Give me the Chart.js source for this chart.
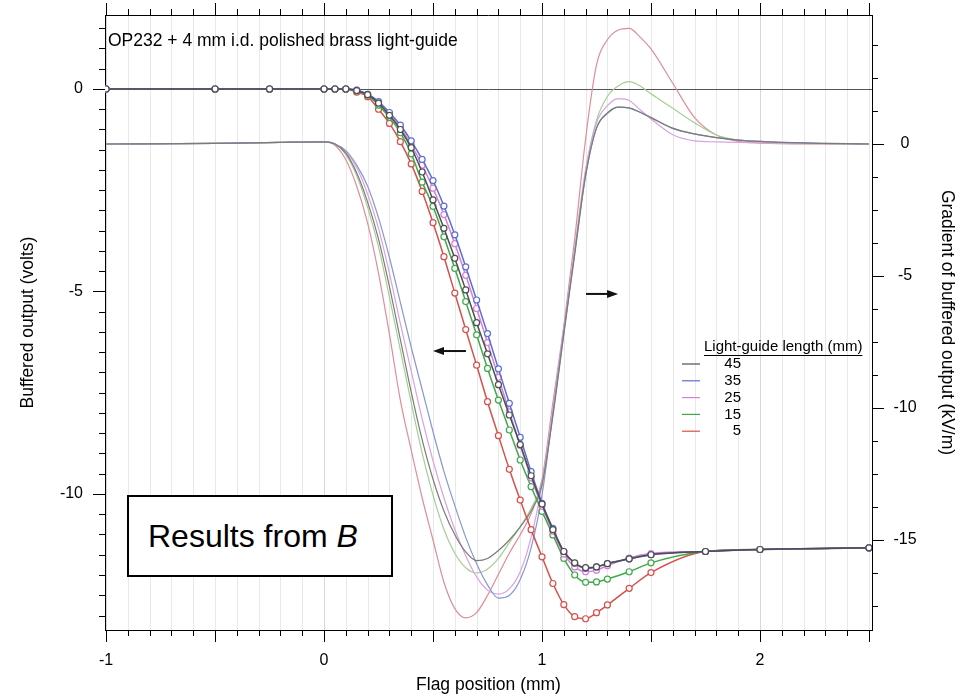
<!DOCTYPE html>
<html><head><meta charset="utf-8">
<script src="https://cdn.jsdelivr.net/npm/chart.js@4.4.1/dist/chart.umd.min.js"></script>
<style>
html,body{margin:0;padding:0;background:#fff;}
#wrap{position:relative;width:977px;height:699px;}
canvas{position:absolute;left:0;top:0;}
#box{position:absolute;left:127px;top:495px;width:266px;height:82px;box-sizing:border-box;border:2px solid #000;background:#fff;font:32px "Liberation Sans",Arial,sans-serif;line-height:78px;padding-left:19px;color:#000;white-space:nowrap;}
</style></head><body>
<div id="wrap"><canvas id="c" width="977" height="699"></canvas><div id="box">Results from <i>B</i></div></div>
<script>
// ---------- data ----------
const lengths = ['45', '35', '25', '15', '5'];

// buffered output (volts), marked points
const bufX = [-1,-0.5,-0.25,0,0.05,0.1,0.15,0.2,0.25,0.3,0.35,0.4,0.45,0.5,0.55,0.6,0.65,0.7,0.75,0.8,0.85,0.9,0.95,1.0,1.05,1.1,1.15,1.2,1.25,1.3,1.4,1.5,1.75,2.0,2.5];
const buf45 = [0,0,0,0,0,0,-0.04,-0.14,-0.35,-0.65,-1.0,-1.45,-2.05,-2.74,-3.44,-4.18,-4.96,-5.77,-6.54,-7.3,-8.05,-8.78,-9.55,-10.25,-10.88,-11.42,-11.7,-11.82,-11.8,-11.72,-11.6,-11.5,-11.42,-11.37,-11.33];
const buf35 = [0,0,0,0,0,0,-0.03,-0.13,-0.31,-0.58,-0.89,-1.28,-1.74,-2.26,-2.89,-3.6,-4.39,-5.21,-6.04,-6.91,-7.76,-8.6,-9.45,-10.23,-10.85,-11.42,-11.71,-11.84,-11.8,-11.72,-11.6,-11.5,-11.42,-11.37,-11.33];
const buf25 = [0,0,0,0,0,0,-0.03,-0.13,-0.33,-0.62,-0.95,-1.38,-1.88,-2.45,-3.1,-3.82,-4.6,-5.42,-6.26,-7.12,-7.97,-8.8,-9.6,-10.3,-10.92,-11.48,-11.8,-11.92,-11.88,-11.77,-11.58,-11.47,-11.42,-11.37,-11.33];
const buf15 = [0,0,0,0,0,0,-0.05,-0.15,-0.4,-0.7,-1.08,-1.6,-2.3,-2.9,-3.65,-4.43,-5.25,-6.07,-6.9,-7.68,-8.42,-9.16,-9.82,-10.43,-11.01,-11.59,-12.0,-12.18,-12.17,-12.1,-11.92,-11.7,-11.42,-11.37,-11.33];
const buf5  = [0,0,0,0,0,0,-0.08,-0.19,-0.5,-0.85,-1.3,-1.85,-2.53,-3.3,-4.14,-5.04,-5.94,-6.82,-7.72,-8.56,-9.39,-10.15,-10.88,-11.55,-12.21,-12.73,-13.03,-13.08,-12.93,-12.74,-12.33,-11.94,-11.42,-11.37,-11.33];

// gradient of buffered output (kV/m)
const gradX = [-1,-0.5,-0.2,0,0.05,0.1,0.15,0.2,0.25,0.3,0.35,0.4,0.45,0.5,0.55,0.6,0.65,0.7,0.75,0.8,0.85,0.9,0.95,1.0,1.05,1.1,1.15,1.2,1.25,1.3,1.35,1.4,1.45,1.5,1.6,1.7,1.8,1.9,2.0,2.2,2.5];
const grad45 = [0,0.02,0.06,0.08,0,-0.35,-1.1,-2.2,-3.6,-5.4,-7.4,-9.4,-11.2,-12.7,-13.9,-14.8,-15.45,-15.78,-15.7,-15.4,-15.0,-14.5,-13.9,-12.9,-10.3,-7.2,-4.2,-1.2,0.6,1.18,1.4,1.37,1.2,1.0,0.6,0.38,0.24,0.15,0.1,0.04,0];
const grad35 = [0,0.02,0.06,0.08,0,-0.25,-0.8,-1.6,-2.8,-4.3,-6.0,-7.7,-9.3,-10.9,-12.4,-13.7,-14.9,-15.9,-16.7,-17.2,-17.1,-16.5,-15.3,-13.3,-10.2,-7.1,-4.1,-1.2,0.6,1.15,1.4,1.36,1.2,1.0,0.58,0.38,0.24,0.15,0.1,0.04,0];
const grad25 = [0,0.02,0.06,0.08,0,-0.3,-0.9,-1.9,-3.2,-4.9,-6.8,-8.6,-10.4,-12.0,-13.4,-14.6,-15.6,-16.4,-16.9,-17.05,-16.85,-16.2,-14.9,-12.9,-10.0,-7.0,-4.0,-1.0,0.8,1.45,1.72,1.65,1.3,0.95,0.35,0.12,0.08,0.06,0.05,0.02,0];
const grad15 = [0,0.02,0.06,0.08,0,-0.4,-1.2,-2.4,-3.9,-5.8,-7.8,-9.8,-11.7,-13.3,-14.6,-15.5,-16.05,-16.25,-16.1,-15.7,-15.1,-14.5,-13.8,-12.8,-10.2,-7.2,-4.0,-1.0,0.9,1.8,2.2,2.36,2.2,1.9,1.35,0.8,0.34,0.15,0.06,0.01,0];
const grad5  = [0,0.02,0.06,0.08,-0.05,-0.6,-1.6,-3.0,-4.9,-7.2,-9.7,-11.6,-13.4,-15.0,-16.6,-17.6,-17.95,-17.75,-17.1,-16.3,-15.5,-14.8,-14.0,-12.7,-9.8,-6.9,-3.6,0.2,3.0,3.95,4.32,4.38,4.05,3.6,2.3,1.0,0.34,0.1,0.03,0,0];

const xTicks = [-1, 0, 1, 2];
const yTicks = [-10, -5, 0];
const y2Ticks = [-15, -10, -5, 0];

// ---------- styling ----------
const FONT = '"Liberation Sans", Arial, Helvetica, sans-serif';
const bufSeries = [buf45, buf35, buf25, buf15, buf5];
const gradSeries = [grad45, grad35, grad25, grad15, grad5];
const bufColors = ['#4e4e4e', '#5a6ed4', '#d97ed9', '#3fa94a', '#d6504c'];
const gradColors = ['#7c7c76', '#8797d4', '#d9a3de', '#a3cf97', '#df8d97'];

const datasets = [];
lengths.forEach((len, i) => {
  datasets.push({
    label: 'gradient ' + len, yAxisID: 'y2',
    data: gradX.map((x, j) => ({x, y: gradSeries[i][j]})),
    borderColor: gradColors[i], borderWidth: 1.2, pointRadius: 0,
    cubicInterpolationMode: 'monotone', order: 2
  });
});
lengths.forEach((len, i) => {
  datasets.push({
    label: len, yAxisID: 'y',
    data: bufX.map((x, j) => ({x, y: bufSeries[i][j]})),
    borderColor: bufColors[i], borderWidth: 1.5,
    pointRadius: 3, pointBorderWidth: 1.2,
    pointBackgroundColor: '#fff', pointBorderColor: bufColors[i],
    cubicInterpolationMode: 'monotone', order: 1
  });
});

function arrow(ctx, x0, y0, x1) {
  const dir = Math.sign(x1 - x0);
  ctx.beginPath();
  ctx.moveTo(x0, y0); ctx.lineTo(x1 - dir * 8, y0);
  ctx.lineWidth = 2; ctx.strokeStyle = '#111'; ctx.stroke();
  ctx.beginPath();
  ctx.moveTo(x1, y0); ctx.lineTo(x1 - dir * 11, y0 - 4); ctx.lineTo(x1 - dir * 11, y0 + 4); ctx.closePath();
  ctx.fillStyle = '#111'; ctx.fill();
}

const framePlugin = {
  id: 'frame',
  beforeDatasetsDraw(chart) {
    const {ctx, chartArea: a, scales: {x, y}} = chart;
    ctx.save();
    ctx.lineWidth = 1;
    for (let i = -10; i <= 25; i++) {
      const px = Math.round(x.getPixelForValue(i / 10)) + 0.5;
      ctx.strokeStyle = (i % 10 === 0) ? '#d8d8d8' : '#e8e8e8';
      ctx.beginPath(); ctx.moveTo(px, a.top); ctx.lineTo(px, a.bottom); ctx.stroke();
    }
    const py = Math.round(y.getPixelForValue(0)) + 0.5;
    ctx.strokeStyle = '#555';
    ctx.beginPath(); ctx.moveTo(a.left, py); ctx.lineTo(a.right, py); ctx.stroke();
    ctx.restore();
  },
  afterDraw(chart) {
    const {ctx, chartArea: a, scales: {x, y, y2}} = chart;
    ctx.save();
    ctx.strokeStyle = '#000'; ctx.lineWidth = 1;
    ctx.beginPath();
    ctx.moveTo(a.left, Math.round(a.top) + 0.5); ctx.lineTo(a.right, Math.round(a.top) + 0.5);
    for (let i = -10; i <= 25; i++) {
      const px = Math.round(x.getPixelForValue(i / 10)) + 0.5;
      const L = (i % 5 === 0) ? 12 : 6;
      ctx.moveTo(px, a.bottom); ctx.lineTo(px, a.bottom + L);
      ctx.moveTo(px, a.top); ctx.lineTo(px, a.top - L);
    }
    for (let i = -26; i <= 3; i++) {
      const v = i * 0.5;
      if (v < y.min || v > y.max) continue;
      const py = Math.round(y.getPixelForValue(v)) + 0.5;
      const L = (i % 10 === 0) ? 12 : 6;
      ctx.moveTo(a.left, py); ctx.lineTo(a.left - L, py);
    }
    for (let i = -14; i <= 3; i++) {
      const v = i * 1.25;
      if (v < y2.min || v > y2.max) continue;
      const py = Math.round(y2.getPixelForValue(v)) + 0.5;
      const L = (i % 4 === 0) ? 12 : 6;
      ctx.moveTo(a.right, py); ctx.lineTo(a.right + L, py);
    }
    ctx.stroke();

    arrow(ctx, x.getPixelForValue(0.651), y.getPixelForValue(-6.47), x.getPixelForValue(0.5));
    arrow(ctx, x.getPixelForValue(1.202), y2.getPixelForValue(-5.68), x.getPixelForValue(1.349));

    ctx.fillStyle = '#000';
    ctx.font = '17.5px ' + FONT;
    ctx.textBaseline = 'middle'; ctx.textAlign = 'left';
    ctx.fillText('OP232 + 4 mm i.d. polished brass light-guide', 108, 41);

    ctx.font = '15px ' + FONT;
    const lt = 'Light-guide length (mm)';
    ctx.fillText(lt, 704, 347);
    const w = ctx.measureText(lt).width;
    ctx.lineWidth = 1; ctx.strokeStyle = '#000';
    ctx.beginPath(); ctx.moveTo(704, 355.5); ctx.lineTo(704 + w, 355.5); ctx.stroke();
    ctx.textAlign = 'right';
    lengths.forEach((len, i) => {
      const ly = 364 + i * 16.8;
      ctx.strokeStyle = bufColors[i]; ctx.lineWidth = 1.2;
      ctx.beginPath(); ctx.moveTo(682, ly); ctx.lineTo(700, ly); ctx.stroke();
      ctx.fillStyle = '#000';
      ctx.fillText(len, 741, ly);
    });
    ctx.restore();
  }
};

const tickFont = {family: FONT, size: 16};
const titleFont = {family: FONT, size: 17.5};
const noPadV = s => { s.width = 105; s.paddingTop = 0; s.paddingBottom = 0; };

new Chart(document.getElementById('c'), {
  type: 'line',
  data: {datasets},
  options: {
    responsive: false, animation: false,
    layout: {padding: {top: 15, left: 0, right: 0, bottom: 0}},
    plugins: {legend: {display: false}, tooltip: {enabled: false}},
    scales: {
      x: {
        type: 'linear', min: -1.005, max: 2.514,
        grid: {display: false, drawTicks: false},
        border: {display: true, color: '#000', width: 1},
        afterBuildTicks: s => { s.ticks = xTicks.map(v => ({value: v})); },
        ticks: {autoSkip: false, maxRotation: 0, padding: 21, color: '#000', font: tickFont, callback: v => String(v)},
        title: {display: true, text: 'Flag position (mm)', color: '#000', font: titleFont, padding: {top: 0, bottom: 3}},
        afterFit: s => { s.height = 69; s.paddingLeft = 0; s.paddingRight = 0; }
      },
      y: {
        type: 'linear', position: 'left', min: -13.358, max: 1.827,
        grid: {display: false, drawTicks: false},
        border: {display: true, color: '#000', width: 1},
        afterBuildTicks: s => { s.ticks = yTicks.map(v => ({value: v})); },
        ticks: {autoSkip: false, padding: 22, color: '#000', font: tickFont, callback: v => String(v)},
        title: {display: true, text: 'Buffered output (volts)', color: '#000', font: titleFont, padding: {top: 18, bottom: 0}},
        afterFit: noPadV
      },
      y2: {
        type: 'linear', position: 'right', min: -18.41, max: 4.886,
        grid: {display: false, drawTicks: false},
        border: {display: true, color: '#000', width: 1},
        afterBuildTicks: s => { s.ticks = y2Ticks.map(v => ({value: v})); },
        ticks: {autoSkip: false, padding: 21.5, crossAlign: 'center', color: '#000', font: tickFont, callback: v => String(v)},
        title: {display: true, text: 'Gradient of buffered output (kV/m)', color: '#000', font: titleFont, padding: {top: 20, bottom: 0}},
        afterFit: noPadV
      }
    }
  },
  plugins: [framePlugin]
});
</script>
</body></html>
